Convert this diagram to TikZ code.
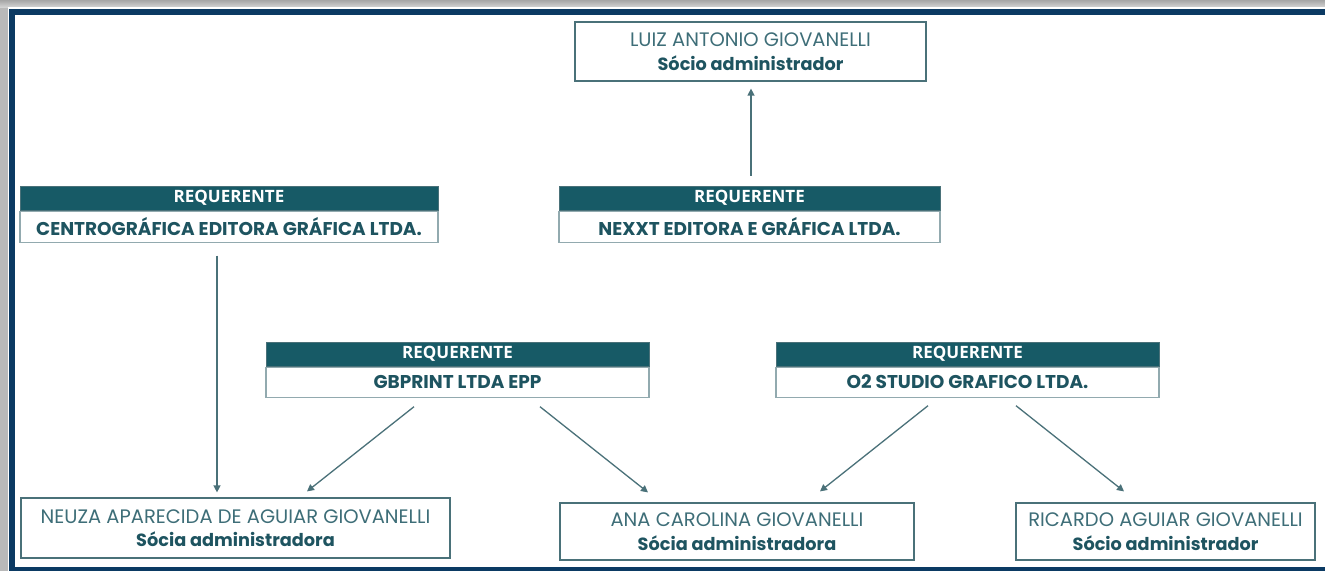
\documentclass[tikz,border=0pt]{standalone}
\usepackage{fontspec}
\setmainfont{Poppins}
\newfontfamily\headfont{Open Sans}
\usetikzlibrary{arrows.meta}
\definecolor{navyframe}{HTML}{0B3A63}
\definecolor{tealhead}{HTML}{175A66}
\definecolor{tealtext}{HTML}{1E5460}
\definecolor{teallight}{HTML}{3E6E78}
\definecolor{tealline}{HTML}{4A7179}
\tikzset{
  headbox/.style={fill=tealhead,draw=tealline,line width=1pt,inner sep=0pt,text=white,
    font=\headfont\fontsize{17}{19}\selectfont\bfseries},
  bodybox/.style={fill=white,draw=tealline!60,line width=1.2pt,inner sep=0pt,text=tealtext,
    font=\fontsize{18.5}{20}\selectfont\bfseries},
  personbox/.style={fill=white,draw=tealline,line width=1.2pt,inner sep=0pt,align=center,
    text=teallight,font=\fontsize{19.5}{23.5}\selectfont},
  arr/.style={draw=tealline,line width=1.3pt,-{Triangle[length=7pt,width=7pt]}}
}
\newcommand{\role}[1]{{\fontsize{17.7}{23.5}\selectfont\bfseries\color{tealtext}#1}}
\begin{document}
\begin{tikzpicture}[x=1pt,y=-1pt]
				\useasboundingbox (0,0) rectangle (1325,571);
				% moldura
				\fill[gray!55] (0,0) rectangle (1325,571);
				\shade[top color=gray!70,bottom color=gray!35] (0,0) rectangle (1325,7);
				\fill[white] (8,7) rectangle (1325,571);
				\fill[navyframe] (9,9) rectangle (1325,571);
				\fill[white] (15,15) rectangle (1325,567);
				% socios
				\node[personbox,minimum width=351pt,minimum height=59pt] (luiz) at (750.5,51.5) {LUIZ ANTONIO GIOVANELLI\\\role{Sócio administrador}};
				\node[personbox,minimum width=429pt,minimum height=60pt] (neuza) at (235.5,528) {NEUZA APARECIDA DE AGUIAR GIOVANELLI\\\role{Sócia administradora}};
				\node[personbox,minimum width=354pt,minimum height=57pt] (ana) at (737,531.5) {ANA CAROLINA GIOVANELLI\\\role{Sócia administradora}};
				\node[personbox,minimum width=299pt,minimum height=57pt] (ricardo) at (1165.5,531.5) {RICARDO AGUIAR GIOVANELLI\\\role{Sócio administrador}};
				% requerentes
				\node[headbox,minimum width=418pt,minimum height=24pt] (centrohead) at (229,198) {REQUERENTE};
				\node[bodybox,minimum width=418pt,minimum height=31pt,anchor=north] (centro) at (centrohead.south) {CENTROGRÁFICA EDITORA GRÁFICA LTDA.};
				\node[headbox,minimum width=381pt,minimum height=24pt] (nexxthead) at (749.5,198) {REQUERENTE};
				\node[bodybox,minimum width=381pt,minimum height=31pt,anchor=north] (nexxt) at (nexxthead.south) {NEXXT EDITORA E GRÁFICA LTDA.};
				\node[headbox,minimum width=383pt,minimum height=24pt] (gbhead) at (457.5,354) {REQUERENTE};
				\node[bodybox,minimum width=383pt,minimum height=30pt,anchor=north] (gb) at (gbhead.south) {GBPRINT LTDA EPP};
				\node[headbox,minimum width=383pt,minimum height=24pt] (o2head) at (967.5,354) {REQUERENTE};
				\node[bodybox,minimum width=383pt,minimum height=30pt,anchor=north] (o2) at (o2head.south) {O2 STUDIO GRAFICO LTDA.};
				% setas
				\draw[arr,shorten <=10pt,shorten >=7pt] ([xshift=1.5pt]nexxthead.north) -- ([xshift=0.5pt]luiz.south);
				\draw[arr,shorten <=13pt,shorten >=5pt] ([xshift=-12pt]centro.south) -- ([xshift=-18.5pt]neuza.north);
				\draw[arr] ([xshift=-43.5pt,yshift=-9pt]gb.south) -- ([xshift=71.5pt,yshift=6pt]neuza.north);
				\draw[arr] ([xshift=82.5pt,yshift=-9pt]gb.south) -- ([xshift=-89pt,yshift=10pt]ana.north);
				\draw[arr] ([xshift=-39.5pt,yshift=-8pt]o2.south) -- ([xshift=83pt,yshift=11pt]ana.north);
				\draw[arr] ([xshift=48.5pt,yshift=-8pt]o2.south) -- ([xshift=-41.5pt,yshift=11pt]ricardo.north);
			\end{tikzpicture}
\end{document}
